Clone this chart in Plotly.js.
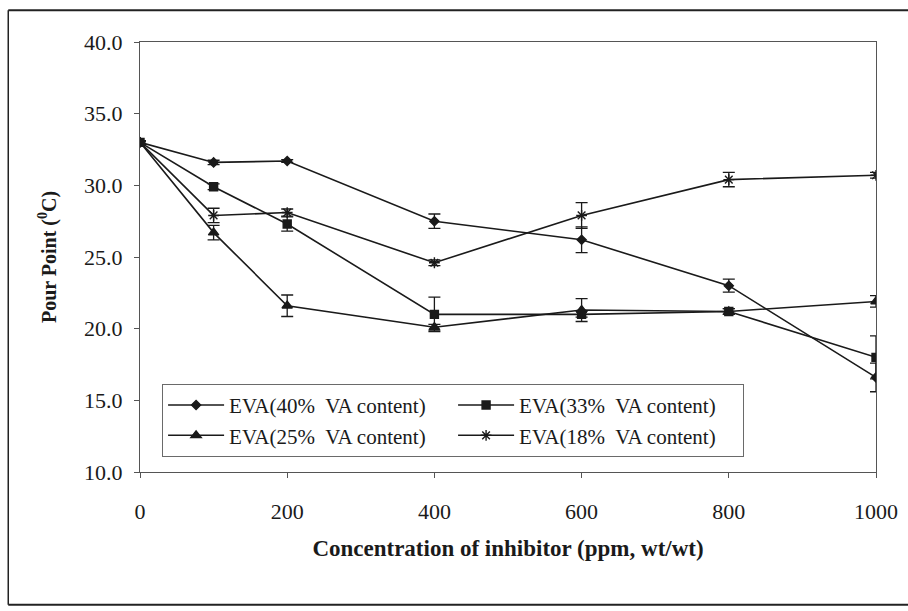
<!DOCTYPE html>
<html>
<head>
<meta charset="utf-8">
<script src="https://cdn.plot.ly/plotly-3.0.1.min.js"></script>
<style>
  html, body { margin: 0; padding: 0; background: #fff; }
  #chart { width: 908px; height: 611px; }
</style>
</head>
<body>
<div id="chart"></div>
<script>
// Inhibitor concentration (ppm, wt/wt)
const concentration = [0, 100, 200, 400, 600, 800, 1000];

// Pour point (°C) for each EVA copolymer
const eva40 = [33.0, 31.6, 31.7, 27.5, 26.2, 23.0, 16.6];
const eva33 = [33.0, 29.9, 27.3, 21.0, 21.0, 21.2, 18.0];
const eva25 = [33.0, 26.7, 21.6, 20.1, 21.3, 21.2, 21.9];
const eva18 = [33.0, 27.9, 28.1, 24.6, 27.9, 30.4, 30.7];

// Standard deviations
const err40 = [0.1, 0.15, 0.1, 0.5, 0.9, 0.45, 1.0];
const err33 = [0.1, 0.2, 0.5, 1.2, 0.2, 0.2, 1.5];
const err25 = [0.1, 0.5, 0.75, 0.2, 0.8, 0.2, 0.4];
const err18 = [0.1, 0.5, 0.25, 0.2, 0.9, 0.5, 0.2];

const seriesNames = [
  'EVA(40%\u00a0 VA content)',
  'EVA(33%\u00a0 VA content)',
  'EVA(25%\u00a0 VA content)',
  'EVA(18%\u00a0 VA content)'
];

const yTicks = [10, 15, 20, 25, 30, 35, 40];
const xTicks = [0, 200, 400, 600, 800, 1000];

const ink = '#1a1a1a';
const serif = '"Liberation Serif", "Times New Roman", serif';

function series(name, y, err, symbol, size) {
  return {
    x: concentration, y: y, name: name, type: 'scatter', mode: 'lines+markers',
    line: { color: ink, width: 1.6 },
    marker: { symbol: symbol, size: size, color: ink, line: { color: ink, width: 1.4 } },
    error_y: { type: 'data', array: err, visible: true, color: ink, thickness: 1.3, width: 6 }
  };
}

const traces = [
  series(seriesNames[0], eva40, err40, 'diamond', 7),
  series(seriesNames[1], eva33, err33, 'square', 8),
  series(seriesNames[2], eva25, err25, 'triangle-up', 9),
  series(seriesNames[3], eva18, err18, 'asterisk-open', 9)
];

const layout = {
  width: 908, height: 611,
  margin: { l: 140, r: 32, t: 42, b: 139 },
  paper_bgcolor: '#ffffff', plot_bgcolor: '#ffffff',
  font: { family: serif, color: ink, size: 18 },
  showlegend: true,
  legend: {
    orientation: 'h', x: 0.030, y: 0.205, xanchor: 'left', yanchor: 'top',
    entrywidth: 219, entrywidthmode: 'pixels',
    bgcolor: '#ffffff', bordercolor: '#6a6a6a', borderwidth: 1,
    font: { family: serif, size: 21, color: ink },
    tracegroupgap: 0, itemwidth: 56
  },
  xaxis: {
    range: [0, 1000], tickvals: xTicks, ticktext: xTicks.map(String),
    showgrid: false, zeroline: false,
    showline: true, linecolor: '#555', linewidth: 1, mirror: true,
    ticks: 'outside', ticklen: 5, tickcolor: '#555', tickwidth: 1,
    ticklabelstandoff: 15,
    tickfont: { family: serif, size: 22, color: ink },
    title: { text: 'Concentration of inhibitor (ppm, wt/wt)', standoff: 16,
             font: { family: serif, size: 23, color: ink, weight: 'bold' } }
  },
  yaxis: {
    range: [10, 40], tickvals: yTicks, ticktext: yTicks.map(v => v.toFixed(1)),
    showgrid: false, zeroline: false,
    showline: true, linecolor: '#555', linewidth: 1, mirror: true,
    ticks: 'outside', ticklen: 5, tickcolor: '#555', tickwidth: 1,
    ticklabelstandoff: 7,
    tickfont: { family: serif, size: 22, color: ink },
    title: { text: 'Pour Point (<sup>0</sup>C)', standoff: 22,
             font: { family: serif, size: 20, color: ink, weight: 'bold' } }
  },
  // inner halves of the tick marks, so the ticks cross the axis lines
  xaxis2: {
    overlaying: 'x', range: [0, 1000], tickvals: xTicks, showticklabels: false,
    showgrid: false, zeroline: false, showline: false,
    ticks: 'inside', ticklen: 5, tickcolor: '#555', tickwidth: 1
  },
  yaxis2: {
    overlaying: 'y', range: [10, 40], tickvals: yTicks, showticklabels: false,
    showgrid: false, zeroline: false, showline: false,
    ticks: 'inside', ticklen: 5, tickcolor: '#555', tickwidth: 1
  },
  shapes: [
    // outer frame around the figure
    { type: 'line', xref: 'paper', yref: 'paper', x0: -0.179, x1: 1.06, y0: 1.074, y1: 1.074,
      line: { color: '#222', width: 2 } },
    { type: 'line', xref: 'paper', yref: 'paper', x0: -0.179, x1: -0.179, y0: 1.074, y1: -0.309,
      line: { color: '#222', width: 1.5 } },
    { type: 'line', xref: 'paper', yref: 'paper', x0: -0.179, x1: 1.06, y0: -0.309, y1: -0.309,
      line: { color: '#222', width: 2 } }
  ]
};

Plotly.newPlot('chart', traces, layout, { displayModeBar: false, staticPlot: true });
</script>
</body>
</html>
